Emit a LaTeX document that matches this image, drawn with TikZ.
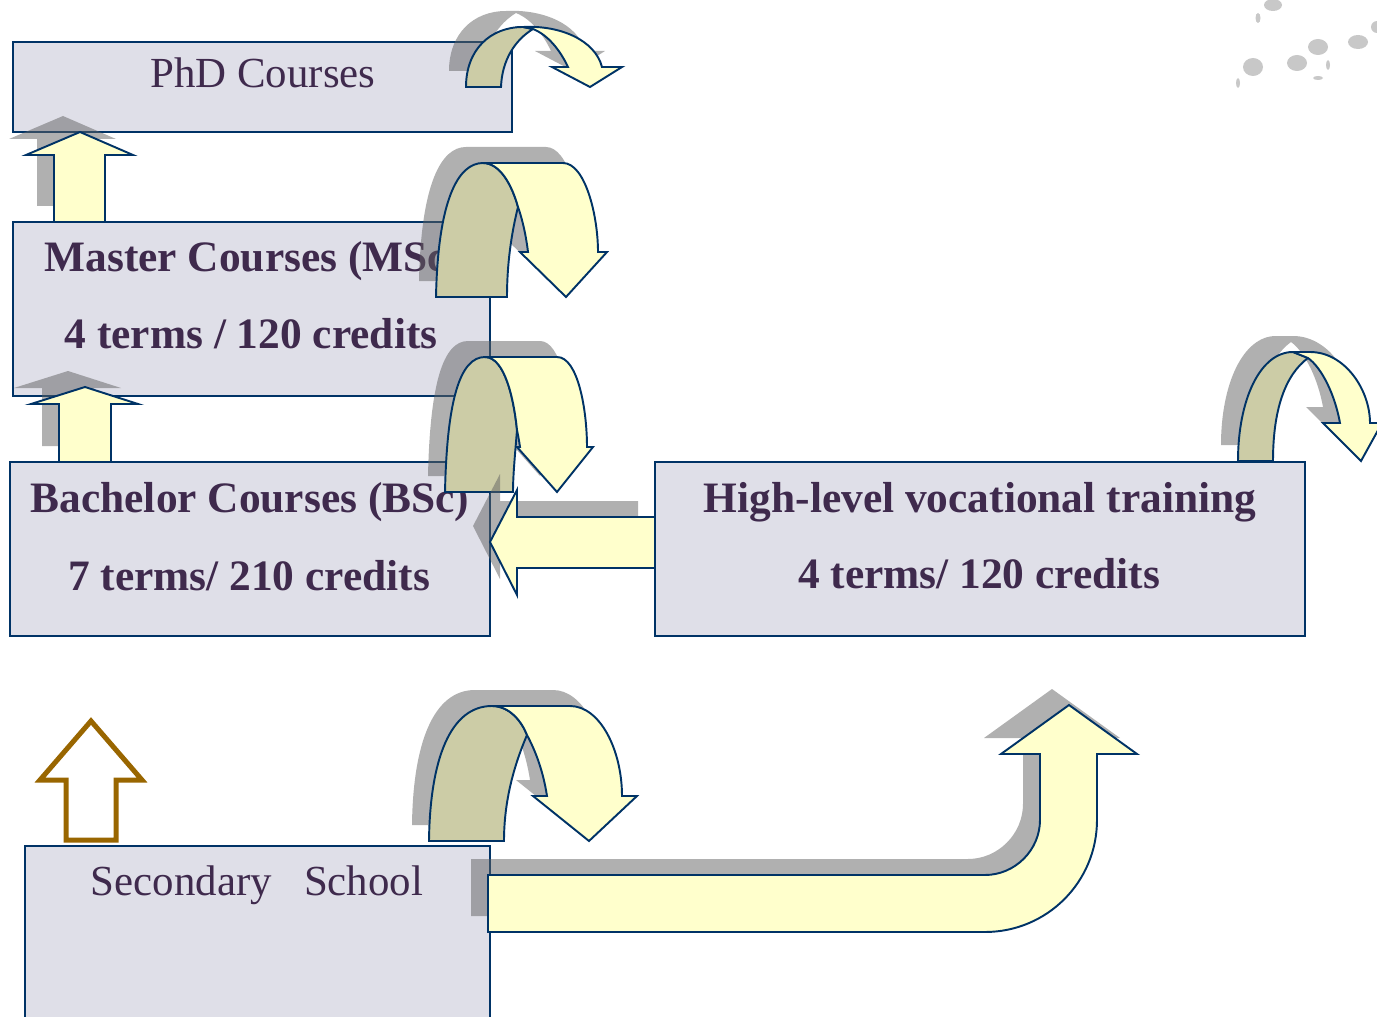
\documentclass[tikz,border=0pt]{standalone}
\usepackage{fontspec}
\setmainfont{Liberation Serif}
\definecolor{navy}{HTML}{003366}
\definecolor{boxgray}{HTML}{DFDFE8}
\definecolor{ink}{HTML}{3F2A4D}
\definecolor{lemon}{HTML}{FFFFCC}
\definecolor{foldolive}{HTML}{CCCCA6}
\definecolor{gold}{HTML}{996600}
\definecolor{shade}{HTML}{616161}
\definecolor{speck}{HTML}{C8C8C8}
% #1 back part, #2 front part of a turning arrow
\newcommand{\turnarrow}[2]{%
	\fill[dropshade] #1 #2;
	\filldraw[backpart] #1;
	\filldraw[frontpart] #2;}
\newcommand{\shadedarrow}[1]{%
	\fill[dropshade] #1;
	\filldraw[frontpart] #1;}
\begin{document}
\begin{tikzpicture}[x=0.02cm,y=-0.02cm,
		course/.style={draw=navy,fill=boxgray,line width=1.2pt,inner sep=0pt},
		boldtxt/.style={text=ink,inner sep=0pt,anchor=base,font=\bfseries\fontsize{24.7}{30}\selectfont},
		lighttxt/.style={text=ink,inner sep=0pt,anchor=base,font=\fontsize{24.4}{30}\selectfont},
		dropshade/.style={fill=shade,opacity=0.5,shift={(-17,-16)}},
		backpart/.style={draw=navy,fill=foldolive,line width=1.1pt},
		frontpart/.style={draw=navy,fill=lemon,line width=1.1pt}]
	\useasboundingbox (0,0) rectangle (1377,1017);
	\clip (0,0) rectangle (1377,1017);
	% boxes
	\node[course,minimum width=9.98cm,minimum height=1.8cm] (phd) at (262.5,87) {};
	\node[course,minimum width=9.54cm,minimum height=3.48cm] (msc) at (251.5,309) {};
	\node[course,minimum width=9.6cm,minimum height=3.48cm] (bsc) at (250,549) {};
	\node[course,minimum width=13cm,minimum height=3.48cm] (voc) at (980,549) {};
	\node[course,minimum width=9.3cm,minimum height=4cm] (school) at (257.5,946) {};
	\node[lighttxt] (phdtxt) at (263,88) {PhD Courses};
	\node[boldtxt] (msc1) at (253,272) {Master Courses (MSc)};
	\node[boldtxt] (msc2) at (251,348) {4 terms / 120 credits};
	\node[boldtxt] (bsc1) at (250,512) {Bachelor Courses (BSc)};
	\node[boldtxt] (bsc2) at (249,590) {7 terms/ 210 credits};
	\node[boldtxt] (voc1) at (980,512) {High-level vocational training};
	\node[boldtxt] (voc2) at (979,588) {4 terms/ 120 credits};
	\node[lighttxt] (schooltxt) at (257,895) {Secondary\ \ \ School};
	% up arrows
	\shadedarrow{(54,222) -- (54,155) -- (26,155) -- (80,132) -- (133,155) -- (105,155) -- (105,222) -- cycle}
	\shadedarrow{(59,462) -- (59,404) -- (31,404) -- (85,387) -- (138,404) -- (111,404) -- (111,462) -- cycle}
	% turning arrows
	\turnarrow{(466,87) .. controls (466,50) and (490,27) .. (523,27) -- (533,29) .. controls (515,40) and (502,60) .. (501,87) -- cycle}
		{(523,27) .. controls (560,25) and (595,40) .. (602,67) -- (622,67) -- (590,87) -- (552,67) -- (568,67) .. controls (560,50) and (548,35) .. (533,29) -- cycle}
	\turnarrow{(436,297) .. controls (438,200) and (458,163) .. (483,163) .. controls (500,163) and (512,185) .. (518,207) .. controls (511,235) and (507,265) .. (507,297) -- cycle}
		{(483,163) -- (563,163) .. controls (585,163) and (598,215) .. (598,252) -- (607,252) -- (566,297) -- (520,252) -- (528,252) .. controls (526,235) and (522,218) .. (518,207) .. controls (512,185) and (500,163) .. (483,163) -- cycle}
	\turnarrow{(445,492) .. controls (447,400) and (460,357) .. (485,357) .. controls (505,357) and (514,400) .. (517,430) .. controls (515,455) and (513,475) .. (513,492) -- cycle}
		{(485,357) -- (557,357) .. controls (578,357) and (587,410) .. (587,447) -- (593,447) -- (557,492) -- (517,447) -- (520,447) .. controls (519,440) and (518,435) .. (517,430) .. controls (514,400) and (505,357) .. (485,357) -- cycle}
	\turnarrow{(429,841) .. controls (430,760) and (450,706) .. (492,706) .. controls (510,706) and (522,722) .. (527,735) .. controls (512,770) and (504,805) .. (504,841) -- cycle}
		{(492,706) -- (570,706) .. controls (600,706) and (622,750) .. (622,796) -- (637,796) -- (589,841) -- (533,796) -- (547,796) .. controls (543,770) and (535,750) .. (527,735) .. controls (522,722) and (510,706) .. (492,706) -- cycle}
	\turnarrow{(1238,461) .. controls (1238,400) and (1260,352) .. (1293,352) -- (1308,358) .. controls (1285,375) and (1273,410) .. (1273,461) -- cycle}
		{(1293,352) -- (1310,352) .. controls (1345,352) and (1370,390) .. (1370,423) -- (1382,423) -- (1361,461) -- (1323,423) -- (1340,423) .. controls (1335,395) and (1322,368) .. (1308,358) -- cycle}
	% vocational to bachelor
	\shadedarrow{(655,517) -- (517,517) -- (517,490) -- (490,542) -- (517,595) -- (517,568) -- (655,568) -- cycle}
	% school to vocational
	\shadedarrow{(488,875) -- (985,875) .. controls (1015,875) and (1040,850) .. (1040,820) -- (1040,754) -- (1001,754) -- (1069,705) -- (1137,754) -- (1097,754) -- (1097,820) .. controls (1097,882) and (1047,932) .. (985,932) -- (488,932) -- cycle}
	% school upwards
	\draw[gold,line width=0.1cm,fill=white] (66,840) -- (66,780) -- (40,780) -- (91,721) -- (142,780) -- (116,780) -- (116,840) -- cycle;
	% specks
	\fill[speck] (1273,5) ellipse [x radius=9,y radius=6];
	\fill[speck] (1258,18) ellipse [x radius=2.5,y radius=5];
	\fill[speck] (1318,47) ellipse [x radius=10,y radius=8];
	\fill[speck] (1358,42) ellipse [x radius=10,y radius=7];
	\fill[speck] (1377,27) ellipse [x radius=6,y radius=6];
	\fill[speck] (1253,67) ellipse [x radius=10,y radius=9];
	\fill[speck] (1297,63) ellipse [x radius=10,y radius=8];
	\fill[speck] (1238,83) ellipse [x radius=2,y radius=5];
	\fill[speck] (1318,78) ellipse [x radius=5,y radius=2];
	\fill[speck] (1328,65) ellipse [x radius=2,y radius=5];
\end{tikzpicture}
\end{document}
